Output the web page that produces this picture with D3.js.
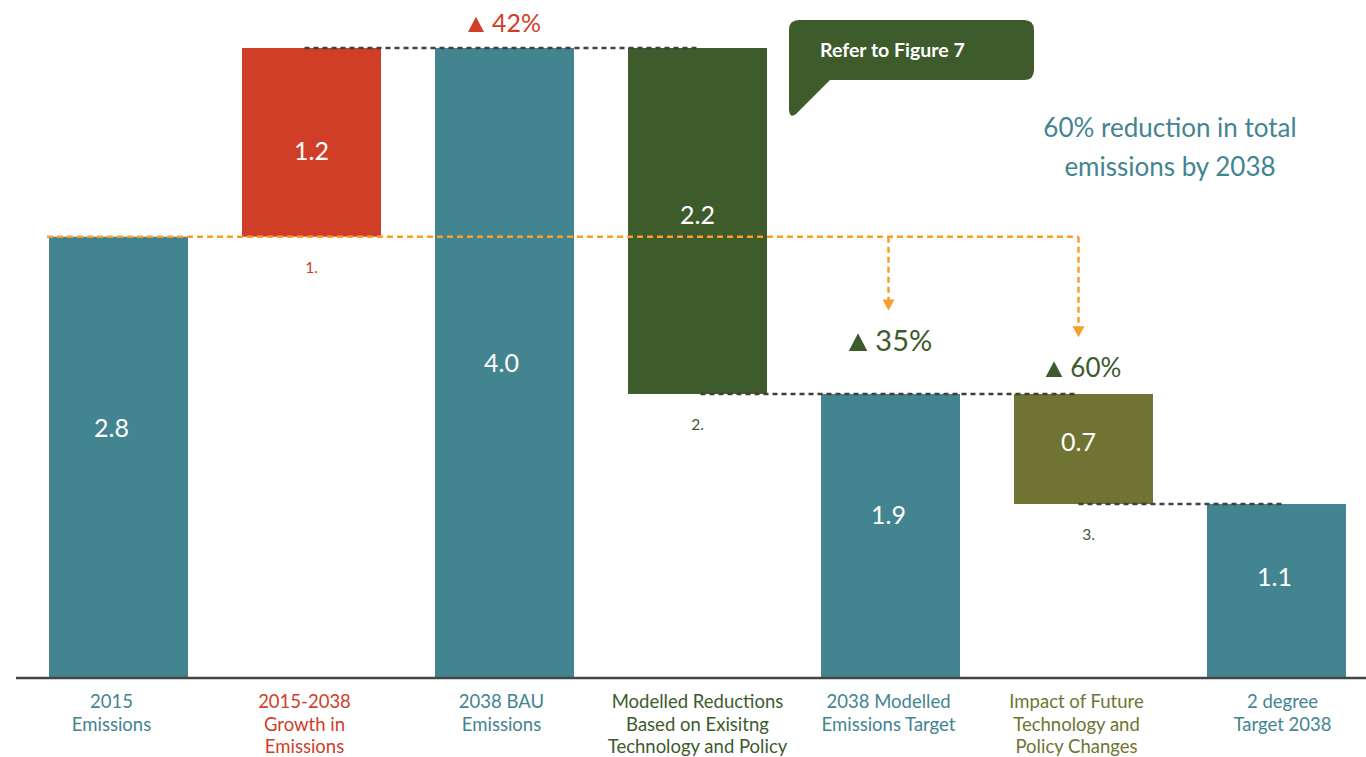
<!DOCTYPE html>
<html>
<head>
  <meta charset="UTF-8">
  <title>Emissions waterfall</title>
  <script src="https://d3js.org/d3.v7.min.js"></script>
  <style>
    html, body { margin: 0; padding: 0; background: #fff; }
    svg { display: block; font-family: Lato, "Noto Sans", sans-serif; }
  </style>
</head>
<body>
<script>
  // category labels, one entry per bar (lines of text)
  const categories = [
    ["2015", "Emissions"],
    ["2015-2038", "Growth in", "Emissions"],
    ["2038 BAU", "Emissions"],
    ["Modelled Reductions", "Based on Exisitng", "Technology and Policy"],
    ["2038 Modelled", "Emissions Target"],
    ["Impact of Future", "Technology and", "Policy Changes"],
    ["2 degree", "Target 2038"]
  ];
  const barLow = [0, 2.8, 0, 1.8, 0, 1.1, 0];
  const barHigh = [2.8, 4.0, 4.0, 4.0, 1.8, 1.8, 1.1];
  const barLabels = ["2.8", "1.2", "4.0", "2.2", "1.9", "0.7", "1.1"];
  const barKinds = ["total", "growth", "total", "reduction", "total", "future", "total"];

  // dark dotted connectors: [from bar, to bar, level]
  const connectors = [[1, 3, 4.0], [3, 5, 1.8], [5, 6, 1.1]];
  // step numbers under the change bars
  const stepNotes = [[1, "1."], [3, "2."], [5, "3."]];
  // percent change notes: [bar, text]
  const pctNotes = [[2, "42%"], [4, "35%"], [5, "60%"]];
  // orange 2015 reference line, drops to these bars ending at these levels
  const refLevel = 2.8;
  const refDrops = [[4, 2.33], [5, 2.16]];

  const w = 1366, h = 757;
  const colors = {
    total: "#438491",
    growth: "#d03e28",
    reduction: "#3d5b2b",
    future: "#6f7432"
  };
  const orange = "#f89e2a";
  const dark = "#3f3f3f";

  // label / line tweaks (px)
  const valueNudgeY = [-29, 9, 0, -6, -20, -7, -14];
  const valueNudgeX = [-7, 0, -3, 0, -2, -5, -2];
  const catNudge = [-7, -7, -3, 0, -2, -7, 6];
  const stepNudge = [0, 0, 5];
  const connNudge = [[-7, 2], [3, -5], [-5, 5]];

  const svg = d3.select("body").append("svg")
    .attr("width", w)
    .attr("height", h);

  const x = d3.scaleBand()
    .domain(d3.range(categories.length))
    .range([22, 1373])
    .paddingInner(0.28)
    .paddingOuter(0.14);

  const y = d3.scaleLinear()
    .domain([0, 4.0])
    .range([677, 48]);

  const cx = i => x(i) + x.bandwidth() / 2;

  // bars
  svg.selectAll("rect.bar")
    .data(barLow)
    .enter()
    .append("rect")
    .attr("class", "bar")
    .attr("x", (d, i) => x(i))
    .attr("y", (d, i) => y(barHigh[i]))
    .attr("width", x.bandwidth())
    .attr("height", (d, i) => y(d) - y(barHigh[i]))
    .attr("fill", (d, i) => colors[barKinds[i]]);

  // baseline
  svg.append("line")
    .attr("x1", 16).attr("x2", w)
    .attr("y1", y(0) + 1).attr("y2", y(0) + 1)
    .attr("stroke", "#444").attr("stroke-width", 2.5);

  // dark dotted connectors
  svg.selectAll("line.conn")
    .data(connectors)
    .enter()
    .append("line")
    .attr("class", "conn")
    .attr("x1", (d, i) => cx(d[0]) + connNudge[i][0])
    .attr("x2", (d, i) => cx(d[1]) + connNudge[i][1])
    .attr("y1", d => y(d[2]))
    .attr("y2", d => y(d[2]))
    .attr("stroke", dark)
    .attr("stroke-width", 2.5)
    .attr("stroke-dasharray", "5,4");

  // orange reference line
  const lastDrop = refDrops[refDrops.length - 1][0];
  svg.append("line")
    .attr("x1", x(0) - 2).attr("x2", cx(lastDrop) - 5)
    .attr("y1", y(refLevel)).attr("y2", y(refLevel))
    .attr("stroke", orange).attr("stroke-width", 2.5)
    .attr("stroke-dasharray", "6,4");

  refDrops.forEach(d => {
    const px = cx(d[0]) - (d[0] === lastDrop ? 5 : 2);
    const tip = y(d[1]);
    svg.append("line")
      .attr("x1", px).attr("x2", px)
      .attr("y1", y(refLevel)).attr("y2", tip - 9)
      .attr("stroke", orange).attr("stroke-width", 2.5)
      .attr("stroke-dasharray", "6,4");
    svg.append("path")
      .attr("d", `M${px - 6},${tip - 11}L${px + 6},${tip - 11}L${px},${tip}Z`)
      .attr("fill", orange);
  });

  // value labels in the bars
  svg.selectAll("text.val")
    .data(barLabels)
    .enter()
    .append("text")
    .attr("class", "val")
    .attr("x", (d, i) => cx(i) + valueNudgeX[i])
    .attr("y", (d, i) => (y(barLow[i]) + y(barHigh[i])) / 2 + 9 + valueNudgeY[i])
    .attr("text-anchor", "middle")
    .attr("fill", "#fff")
    .attr("font-size", 25)
    .text(d => d);

  // category labels
  svg.selectAll("text.cat")
    .data(categories)
    .enter()
    .append("text")
    .attr("class", "cat")
    .attr("text-anchor", "middle")
    .attr("fill", (d, i) => colors[barKinds[i]])
    .attr("font-size", 18.5)
    .each(function (d, i) {
      d3.select(this).selectAll("tspan")
        .data(d)
        .enter()
        .append("tspan")
        .attr("x", cx(i) + catNudge[i])
        .attr("y", (t, j) => 708 + j * 22.5)
        .text(t => t);
    });

  // step numbers
  svg.selectAll("text.step")
    .data(stepNotes)
    .enter()
    .append("text")
    .attr("class", "step")
    .attr("x", (d, i) => cx(d[0]) + stepNudge[i])
    .attr("y", d => y(barLow[d[0]]) + 36)
    .attr("text-anchor", "middle")
    .attr("font-size", 15.5)
    .attr("fill", d => d[0] === 1 ? colors.growth : colors.reduction)
    .text(d => d[1]);

  // percent notes with triangles
  const pctOffset = [16, 43, 17];
  const pctSize = [25, 29, 26];
  pctNotes.forEach((d, k) => {
    const col = k === 0 ? colors.growth : colors.reduction;
    const g = svg.append("g")
      .attr("transform", `translate(${cx(d[0])},${y(barHigh[d[0]]) - pctOffset[k]})`);
    const t = g.append("text")
      .attr("font-size", pctSize[k])
      .attr("fill", col)
      .text(d[1]);
    const tw = t.node().getComputedTextLength();
    const s = pctSize[k] * 0.64;
    const shift = -(tw + s + 8) / 2;
    t.attr("x", shift + s + 8);
    g.append("path")
      .attr("d", `M${shift},0L${shift + s},0L${shift + s / 2},${-s * 0.95}Z`)
      .attr("fill", col);
  });

  // callout bubble
  svg.append("path")
    .attr("d", "M799,20 H1024 Q1034,20 1034,30 V70 Q1034,80 1024,80 H830 L796,114 Q790,119 789,110 V30 Q789,20 799,20 Z")
    .attr("fill", colors.reduction);
  svg.append("text")
    .attr("x", 820).attr("y", 57)
    .attr("fill", "#fff")
    .attr("font-size", 19.5)
    .attr("font-weight", "bold")
    .text("Refer to Figure 7");

  // side note
  svg.append("text")
    .attr("text-anchor", "middle")
    .attr("fill", colors.total)
    .attr("font-size", 26)
    .selectAll("tspan")
    .data(["60% reduction in total", "emissions by 2038"])
    .enter()
    .append("tspan")
    .attr("x", 1170)
    .attr("y", (d, i) => 137 + i * 39)
    .text(d => d);
</script>
</body>
</html>
